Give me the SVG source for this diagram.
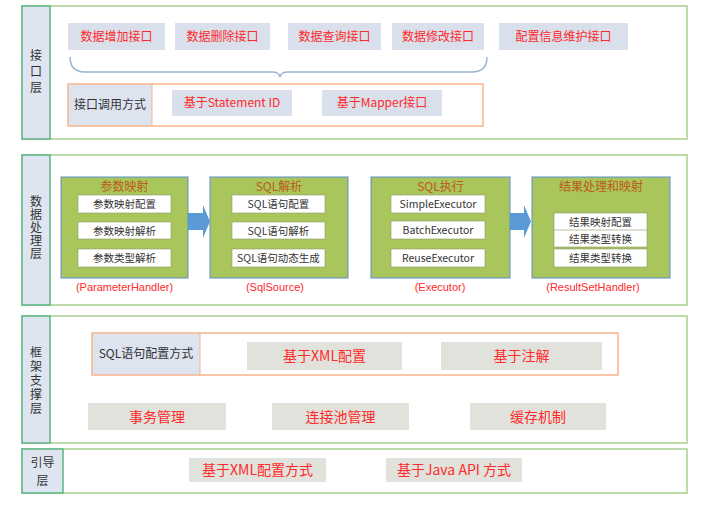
<svg xmlns="http://www.w3.org/2000/svg" width="718" height="510" viewBox="0 0 718 510">
  <defs>
    <style>
      .layer { fill: #ffffff; stroke: #a9d18e; stroke-width: 1.5; }
      .tag { fill: #dee5f0; stroke: #5bb584; stroke-width: 1.5; }
      .tagtxt { font-family: "Noto Sans CJK SC", sans-serif; font-size: 12px; fill: #333333; text-anchor: middle; }
      .vert { writing-mode: vertical-rl; glyph-orientation-vertical: 0; }
      .ibox { fill: #d9dfeb; }
      .gbox { fill: #e2e2dc; }
      .red { font-family: "Noto Sans CJK SC", sans-serif; font-size: 12px; fill: #ff2a2a; text-anchor: middle; }
      .red14 { font-family: "Noto Sans CJK SC", sans-serif; font-size: 14px; fill: #ff2a2a; text-anchor: middle; }
      .frame { fill: none; stroke: #f7b48a; stroke-width: 1.5; }
      .cap { fill: #dde4f0; }
      .captxt { font-family: "Noto Sans CJK SC", sans-serif; font-size: 12px; fill: #333333; text-anchor: middle; }
      .stage { fill: #a8c65b; stroke: #5d8fcf; stroke-width: 1; }
      .title { font-family: "Noto Sans CJK SC", sans-serif; font-size: 12px; fill: #c0581a; text-anchor: middle; }
      .sub { fill: #ffffff; stroke: #8c9a6a; stroke-width: 0.6; }
      .subtxt { font-family: "Noto Sans CJK SC", sans-serif; font-size: 10.5px; fill: #333333; text-anchor: middle; }
      .cls { font-family: "Liberation Sans", sans-serif; font-size: 11px; fill: #ff2a2a; text-anchor: middle; }
      .flow { fill: #5b9bd5; }
      .brace { fill: none; stroke: #9db5d2; stroke-width: 1.5; }
    </style>
  </defs>

  <!-- interface layer -->
  <g id="interface-layer">
    <rect class="layer" x="22" y="6" width="665" height="133"/>
    <rect class="tag" x="22" y="6" width="28" height="133"/>
    <text class="tagtxt vert" x="36" y="73" letter-spacing="4">接口层</text>
  </g>
  <g id="api-add"><rect class="ibox" x="68" y="23" width="97" height="27"/><text class="red" x="116.5" y="41">数据增加接口</text></g>
  <g id="api-delete"><rect class="ibox" x="175" y="23" width="95" height="27"/><text class="red" x="222.5" y="41">数据删除接口</text></g>
  <g id="api-query"><rect class="ibox" x="288" y="23" width="93" height="27"/><text class="red" x="334.5" y="41">数据查询接口</text></g>
  <g id="api-update"><rect class="ibox" x="392" y="23" width="92" height="27"/><text class="red" x="438" y="41">数据修改接口</text></g>
  <g id="api-config"><rect class="ibox" x="499" y="23" width="129" height="27"/><text class="red" x="563.5" y="41">配置信息维护接口</text></g>

  <g id="call-style">
    <rect class="cap" x="68" y="84" width="84" height="42"/>
    <rect class="frame" x="68" y="84" width="415" height="42"/>
    <line x1="152" y1="84" x2="152" y2="126" stroke="#f7b48a" stroke-width="1"/>
    <text class="captxt" x="110" y="109">接口调用方式</text>
    <rect class="ibox" x="172" y="90" width="120" height="26"/>
    <text class="red" x="232" y="107">基于Statement ID</text>
    <rect class="ibox" x="322" y="90" width="120" height="26"/>
    <text class="red" x="382" y="107">基于Mapper接口</text>
  </g>

  <!-- data processing layer -->
  <g id="processing-layer">
    <rect class="layer" x="22" y="155" width="665" height="150"/>
    <rect class="tag" x="22" y="155" width="28" height="150"/>
    <text class="tagtxt vert" x="36" y="228" letter-spacing="1">数据处理层</text>
  </g>

  <g id="param-mapping">
    <rect class="stage" x="61" y="177" width="127" height="101"/>
    <text class="title" x="124.5" y="191">参数映射</text>
    <rect class="sub" x="78" y="195" width="93" height="18"/><text class="subtxt" x="124.5" y="208">参数映射配置</text>
    <rect class="sub" x="78" y="222" width="93" height="17"/><text class="subtxt" x="124.5" y="234.5">参数映射解析</text>
    <rect class="sub" x="78" y="249" width="93" height="18"/><text class="subtxt" x="124.5" y="262">参数类型解析</text>
    <text class="cls" x="124.5" y="291">(ParameterHandler)</text>
  </g>

  <g id="sql-parse">
    <rect class="stage" x="210" y="177" width="138" height="101"/>
    <text class="title" x="279" y="191">SQL解析</text>
    <rect class="sub" x="232" y="195" width="93" height="18"/><text class="subtxt" x="278.5" y="208">SQL语句配置</text>
    <rect class="sub" x="232" y="222" width="93" height="17"/><text class="subtxt" x="278.5" y="234.5">SQL语句解析</text>
    <rect class="sub" x="232" y="249" width="93" height="18"/><text class="subtxt" x="278.5" y="262">SQL语句动态生成</text>
    <text class="cls" x="275" y="291">(SqlSource)</text>
  </g>

  <g id="sql-exec">
    <rect class="stage" x="371" y="177" width="139" height="101"/>
    <text class="title" x="440.5" y="191">SQL执行</text>
    <rect class="sub" x="391" y="195" width="94" height="18"/><text class="subtxt" x="438" y="208">SimpleExecutor</text>
    <rect class="sub" x="391" y="221" width="94" height="18"/><text class="subtxt" x="438" y="234">BatchExecutor</text>
    <rect class="sub" x="391" y="249" width="94" height="18"/><text class="subtxt" x="438" y="262">ReuseExecutor</text>
    <text class="cls" x="440" y="291">(Executor)</text>
  </g>

  <g id="result-mapping">
    <rect class="stage" x="532" y="177" width="138" height="101"/>
    <text class="title" x="601" y="191">结果处理和映射</text>
    <rect class="sub" x="554" y="213" width="93" height="18"/><text class="subtxt" x="600.5" y="226">结果映射配置</text>
    <rect class="sub" x="554" y="230" width="93" height="17"/><text class="subtxt" x="600.5" y="242.5">结果类型转换</text>
    <rect class="sub" x="554" y="249" width="93" height="18"/><text class="subtxt" x="600.5" y="262">结果类型转换</text>
    <text class="cls" x="593" y="291">(ResultSetHandler)</text>
  </g>

  <!-- framework support layer -->
  <g id="support-layer">
    <rect class="layer" x="22" y="316" width="665" height="127"/>
    <rect class="tag" x="22" y="316" width="28" height="127"/>
    <text class="tagtxt vert" x="36" y="381" letter-spacing="2">框架支撑层</text>
  </g>

  <g id="sql-config-style">
    <rect class="cap" x="92" y="333" width="108" height="42"/>
    <rect class="frame" x="92" y="333" width="526" height="42"/>
    <line x1="200" y1="333" x2="200" y2="375" stroke="#f7b48a" stroke-width="1"/>
    <text class="captxt" x="146" y="358">SQL语句配置方式</text>
    <rect class="gbox" x="247" y="342" width="155" height="28"/>
    <text class="red14" x="324.5" y="361">基于XML配置</text>
    <rect class="gbox" x="441" y="342" width="161" height="28"/>
    <text class="red14" x="521.5" y="361">基于注解</text>
  </g>

  <g id="transactions"><rect class="gbox" x="88" y="403" width="138" height="27"/><text class="red14" x="157" y="421.5">事务管理</text></g>
  <g id="connection-pool"><rect class="gbox" x="272" y="403" width="137" height="27"/><text class="red14" x="340.5" y="421.5">连接池管理</text></g>
  <g id="cache"><rect class="gbox" x="470" y="403" width="136" height="27"/><text class="red14" x="538" y="421.5">缓存机制</text></g>

  <!-- bootstrap layer -->
  <g id="bootstrap-layer">
    <rect class="layer" x="22" y="449" width="665" height="44"/>
    <rect class="tag" x="22" y="449" width="41" height="44"/>
    <text class="tagtxt" x="42.5" y="467">引导</text>
    <text class="tagtxt" x="42.5" y="485">层</text>
  </g>
  <g id="boot-xml"><rect class="gbox" x="189" y="458" width="137" height="24"/><text class="red14" x="257.5" y="475">基于XML配置方式</text></g>
  <g id="boot-java"><rect class="gbox" x="386" y="458" width="136" height="24"/><text class="red14" x="454" y="475">基于Java API 方式</text></g>

  <!-- connectors -->
  <g id="connectors">
    <path class="brace" d="M70 57 Q70 72 85 72 L272 72 Q279 72 280 77 Q281 72 288 72 L472 72 Q487 72 487 57"/>
    <path class="flow" d="M188 213 L203 213 L203 205 L210 221.5 L203 238 L203 230 L188 230 Z"/>
    <path class="flow" d="M510 213 L524 213 L524 205 L531 221.5 L524 238 L524 230 L510 230 Z"/>
  </g>
</svg>
